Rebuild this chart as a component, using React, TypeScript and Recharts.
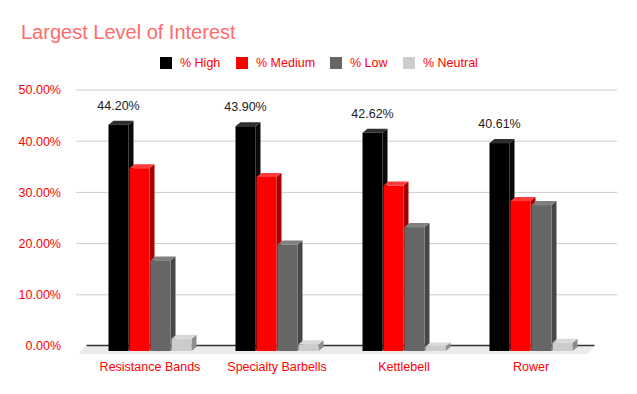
import React from 'react';
import { BarChart, Bar, XAxis, YAxis, CartesianGrid, LabelList, ReferenceArea, ReferenceLine } from 'recharts';

const categories = ['Resistance Bands', 'Specialty Barbells', 'Kettlebell', 'Rower'];
const high = [44.2, 43.9, 42.62, 40.61];
const medium = [35.7, 34.0, 32.3, 29.3];
const low = [17.7, 20.8, 24.2, 28.5];
const neutral = [2.4, 1.3, 0.9, 1.6];
const yTicks = [0, 10, 20, 30, 40, 50];

const FONT = '"Liberation Sans", Arial, sans-serif';

const data = categories.map((name, i) => ({
  name,
  high: high[i],
  medium: medium[i],
  low: low[i],
  neutral: neutral[i],
}));

const series = [
  { key: 'high', label: '% High', front: '#000000', top: '#2e2e2e', side: '#0a0a0a', lx: 160 },
  { key: 'medium', label: '% Medium', front: '#ff0000', top: '#ff3b3b', side: '#a80000', lx: 236 },
  { key: 'low', label: '% Low', front: '#666666', top: '#808080', side: '#474747', lx: 330 },
  { key: 'neutral', label: '% Neutral', front: '#cccccc', top: '#d9d9d9', side: '#8e8e8e', lx: 403 },
];

// fake 3d box: front face pushed down, top and side faces drawn as polygons
const box3d = (front: string, top: string, side: string) => (props: any) => {
  const { x, y, width, height } = props;
  if (width == null || height == null) return null;
  const dx = 5;
  const dy = 4;
  const shift = 5;
  const fy = y + shift;
  const by = fy - dy;
  return (
    <g>
      <polygon
        points={`${x + width},${fy} ${x + width + dx},${by} ${x + width + dx},${by + height} ${x + width},${fy + height}`}
        fill={side}
      />
      <polygon
        points={`${x},${fy} ${x + dx},${by} ${x + width + dx},${by} ${x + width},${fy}`}
        fill={top}
      />
      <rect x={x} y={fy} width={width} height={height} fill={front} />
    </g>
  );
};

// floor slab under the bars, with the dark zero line on its back edge
const Floor = (props: any) => {
  const { x, y, width, height } = props;
  const b = Math.round(y + height);
  return (
    <g>
      <path
        d={`M${x - 1},${b} L${x + width},${b} L${x + width - 7},${b + 8} L${x - 8},${b + 8} Z`}
        fill="#ebebeb"
        stroke="none"
      />
      <path d={`M${x},${b - 0.5} L${x + width},${b - 0.5}`} stroke="#333333" strokeWidth={1.5} fill="none" />
    </g>
  );
};

export default function App() {
  return (
    <div style={{ position: 'absolute', left: 0, top: 0, width: 637, height: 394, background: '#fff', fontFamily: FONT }}>
      <div style={{ position: 'absolute', left: 21, top: 21, fontSize: 20, color: '#ff6b6b', lineHeight: 'normal' }}>
        Largest Level of Interest
      </div>
      {series.map((s) => (
        <div
          key={s.key}
          style={{ position: 'absolute', left: s.lx, top: 56, display: 'flex', alignItems: 'center', fontSize: 12.5, color: '#ff0000', whiteSpace: 'nowrap' }}
        >
          <span style={{ display: 'inline-block', width: 12, height: 12, background: s.front, marginRight: 8 }} />
          <span>{s.label}</span>
        </div>
      ))}
      <BarChart
        width={637}
        height={394}
        data={data}
        margin={{ top: 90, right: 20, left: 16, bottom: 18 }}
        barSize={20}
        barGap={1}
      >
        <CartesianGrid vertical={false} stroke="#cccccc" horizontalValues={[10, 20, 30, 40, 50]} />
        <ReferenceArea y1={0} y2={50} shape={<Floor />} fill="none" stroke="none" ifOverflow="visible" />
        <XAxis
          dataKey="name"
          height={30}
          padding={{ left: 10.5, right: 22.5 }}
          axisLine={false}
          tickLine={false}
          tickSize={0}
          tickMargin={16}
          tick={{ fill: '#ff0000', fontSize: 12.5, fontFamily: FONT }}
        />
        <YAxis
          width={60}
          domain={[0, 50]}
          ticks={yTicks}
          tickFormatter={(v: number) => v.toFixed(2) + '%'}
          axisLine={false}
          tickLine={false}
          tickSize={0}
          tickMargin={15}
          tick={{ fill: '#ff0000', fontSize: 12.5, fontFamily: FONT }}
        />
        {series.map((s) => (
          <Bar
            key={s.key}
            dataKey={s.key}
            name={s.label}
            fill={s.front}
            isAnimationActive={false}
            shape={box3d(s.front, s.top, s.side)}
          >
            {s.key === 'high' && (
              <LabelList
                dataKey="high"
                position="top"
                offset={10}
                formatter={(v: any) => Number(v).toFixed(2) + '%'}
                style={{ fill: '#222222', fontSize: 12.5, fontFamily: FONT }}
              />
            )}
          </Bar>
        ))}
      </BarChart>
    </div>
  );
}
